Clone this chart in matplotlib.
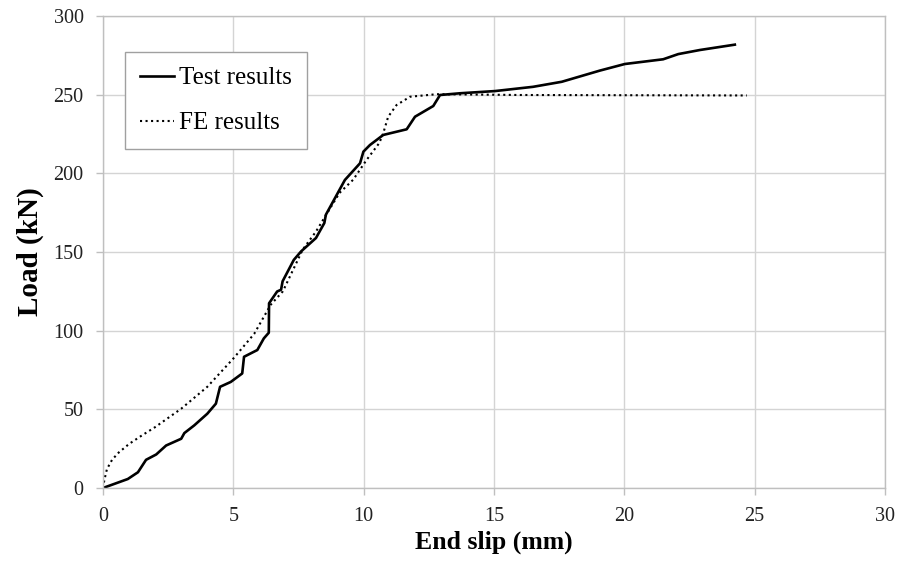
import matplotlib
matplotlib.use('Agg')
from matplotlib import pyplot as plt

plt.rcParams['font.family'] = 'Liberation Serif'

# load-slip curve from the push test
test_slip = [0, 0.95, 1.34, 1.65, 2.04, 2.42, 3.0, 3.12, 3.5, 4.0, 4.33, 4.49,
             4.9, 5.34, 5.41, 5.92, 6.17, 6.36, 6.37, 6.68, 6.83, 6.89, 7.32,
             7.6, 8.17, 8.49, 8.55, 9.28, 9.86, 9.99, 10.24, 10.75, 11.65,
             11.97, 12.67, 12.93, 13.7, 15.04, 16.5, 17.6, 19.06, 20.02,
             21.49, 22.07, 22.9, 24.24]
test_load = [0, 5.7, 10, 17.9, 21.3, 27, 31.3, 34.9, 39.8, 47.2, 53.6, 64.3,
             67.4, 72.8, 83.4, 87.7, 95.1, 98.7, 117.4, 124.9, 126, 131.4, 145,
             150.4, 158.9, 168.4, 173.7, 195.8, 206.4, 213.8, 218, 224.4, 228,
             236, 242.8, 249.8, 250.9, 252.3, 255, 258.2, 265.3, 269.5,
             272.5, 275.8, 278.4, 281.8]

# finite element prediction
fe_slip = [0, 0.05, 0.15, 0.35, 0.6, 1.0, 1.5, 2.0, 3.0, 4.0, 5.0, 5.8, 6.43,
           6.9, 7.66, 8.17, 9.07, 9.6, 10.11, 10.6, 10.75, 10.94, 11.26, 11.78,
           12.8, 16.0, 24.7]
fe_load = [0, 5, 12, 18, 22.5, 28, 33.5, 38.7, 50.4, 64.3, 82.3, 98, 116.4,
           125, 151.5, 163, 187.5, 196, 208.5, 219.3, 225.5, 236, 243.4, 248.7,
           250.3, 249.8, 249.5]

fig = plt.figure(figsize=(8.99, 5.62), dpi=100)
ax = fig.add_axes([0.1146, 0.1317, 0.8698, 0.8398])

ax.plot(test_slip, test_load, color='black', lw=1.9, label='Test results',
        solid_joinstyle='round')
ax.plot(fe_slip, fe_load, color='black', lw=1.5, ls=':', label='FE results')

ax.set_xlim(0, 30)
ax.set_ylim(0, 300)
ax.set_xticks(range(0, 31, 5))
ax.set_yticks(range(0, 301, 50))
ax.grid(True, color='#d4d4d4', lw=1.0)
ax.set_axisbelow(True)
for s in ax.spines.values():
    s.set_color('#bfbfbf')
    s.set_linewidth(1.0)
ax.tick_params(length=5, width=1.0, color='#bfbfbf', labelsize=14.5, pad=9,
               labelcolor='#222222')

ax.set_xlabel('End slip (mm)', fontsize=18.5, fontweight='bold', labelpad=3)
ax.set_ylabel('Load (kN)', fontsize=21, fontweight='bold', labelpad=7)

leg = ax.legend(loc='upper left', bbox_to_anchor=(0.028, 0.924), fontsize=18,
                fancybox=False, framealpha=1, edgecolor='#a0a0a0',
                handlelength=1.35, handletextpad=0.2, borderpad=0.6,
                labelspacing=0.9, borderaxespad=0)
leg.get_frame().set_linewidth(1.0)

fig.savefig('out.png', dpi=100)
